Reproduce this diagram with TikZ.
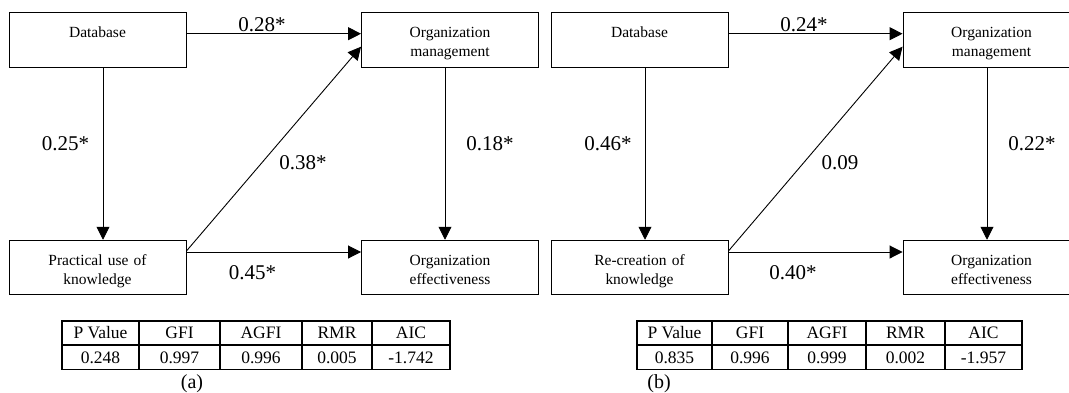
\documentclass[tikz,border=0pt]{standalone}
\usepackage{fontspec}
\setmainfont{Liberation Serif}
\usetikzlibrary{arrows.meta,positioning}

\begin{document}
\begin{tikzpicture}[x=1pt,y=-1pt,box/.style={draw,rectangle,line width=0.9pt,minimum width=177pt,text width=150pt,align=center,inner sep=0pt,text height=25.5pt,text depth=29.1pt,font=\fontsize{15.5}{19}\selectfont},coef/.style={inner sep=0pt,font=\fontsize{21}{24}\selectfont},arr/.style={-{Triangle[length=13pt,width=13pt]},line width=0.9pt},cell/.style={draw,rectangle,line width=1.2pt,minimum height=23.5pt,inner sep=0pt,font=\fontsize{17.5}{20}\selectfont},subcap/.style={inner sep=0pt,font=\fontsize{20}{22}\selectfont}]
\useasboundingbox (0,0) rectangle (1069,392);
% (a)
\node[box] (dba) at (97.5,39.7) {Database};
\node[box] (oma) at (450,39.7) {Organization\\management};
\node[box] (pua) at (97.5,267.5) {Practical use of\\knowledge};
\node[box] (oea) at (450,267.5) {Organization\\effectiveness};
\draw[arr] ([yshift=6pt]dba.east) -- ([yshift=6pt]oma.west);
\draw[arr] ([xshift=5.5pt]dba.south) -- ([xshift=5.5pt]pua.north);
\draw[arr] ([yshift=16.5pt]pua.east) -- ([yshift=-7pt]oma.west);
\draw[arr] ([yshift=15.5pt]pua.east) -- ([yshift=15.5pt]oea.west);
\draw[arr] ([xshift=-5pt]oma.south) -- ([xshift=-5pt]oea.north);
\node[coef] (ca1) at (262,25) {0.28*};
\node[coef] (ca2) at (65.5,144) {0.25*};
\node[coef] (ca3) at (303,163) {0.38*};
\node[coef] (ca4) at (490,144) {0.18*};
\node[coef] (ca5) at (252.5,273) {0.45*};
\foreach \l/\r/\h/\v [count=\i] in {62/139/P Value/0.248,139/220/GFI/0.997,220/302/AGFI/0.996,302/372/RMR/0.005,372/450/AIC/-1.742}
{
  \node[cell,minimum width={\r-\l}] (ha\i) at ({(\l+\r)/2},332.75) {\h};
  \node[cell,minimum width={\r-\l},below=0pt of ha\i] (va\i) {\v};
}
\node[subcap] (capa) at (192,384) {(a)};
% (b)
\node[box] (dbb) at (639.5,39.7) {Database};
\node[box] (omb) at (991.5,39.7) {Organization\\management};
\node[box] (rcb) at (639.5,267.5) {Re-creation of\\knowledge};
\node[box] (oeb) at (991.5,267.5) {Organization\\effectiveness};
\draw[arr] ([yshift=6pt]dbb.east) -- ([yshift=6pt]omb.west);
\draw[arr] ([xshift=5.5pt]dbb.south) -- ([xshift=5.5pt]rcb.north);
\draw[arr] ([yshift=16.5pt]rcb.east) -- ([yshift=-7pt]omb.west);
\draw[arr] ([yshift=15.5pt]rcb.east) -- ([yshift=15.5pt]oeb.west);
\draw[arr] ([xshift=-4.5pt]omb.south) -- ([xshift=-4.5pt]oeb.north);
\node[coef] (cb1) at (804,25) {0.24*};
\node[coef] (cb2) at (608,144) {0.46*};
\node[coef] (cb3) at (840,163) {0.09};
\node[coef] (cb4) at (1032,144) {0.22*};
\node[coef] (cb5) at (793,273) {0.40*};
\foreach \l/\r/\h/\v [count=\i] in {637/712/P Value/0.835,712/788/GFI/0.996,788/866/AGFI/0.999,866/945/RMR/0.002,945/1022/AIC/-1.957}
{
  \node[cell,minimum width={\r-\l}] (hb\i) at ({(\l+\r)/2},332.75) {\h};
  \node[cell,minimum width={\r-\l},below=0pt of hb\i] (vb\i) {\v};
}
\node[subcap] (capb) at (659,384) {(b)};
\end{tikzpicture}
\end{document}
